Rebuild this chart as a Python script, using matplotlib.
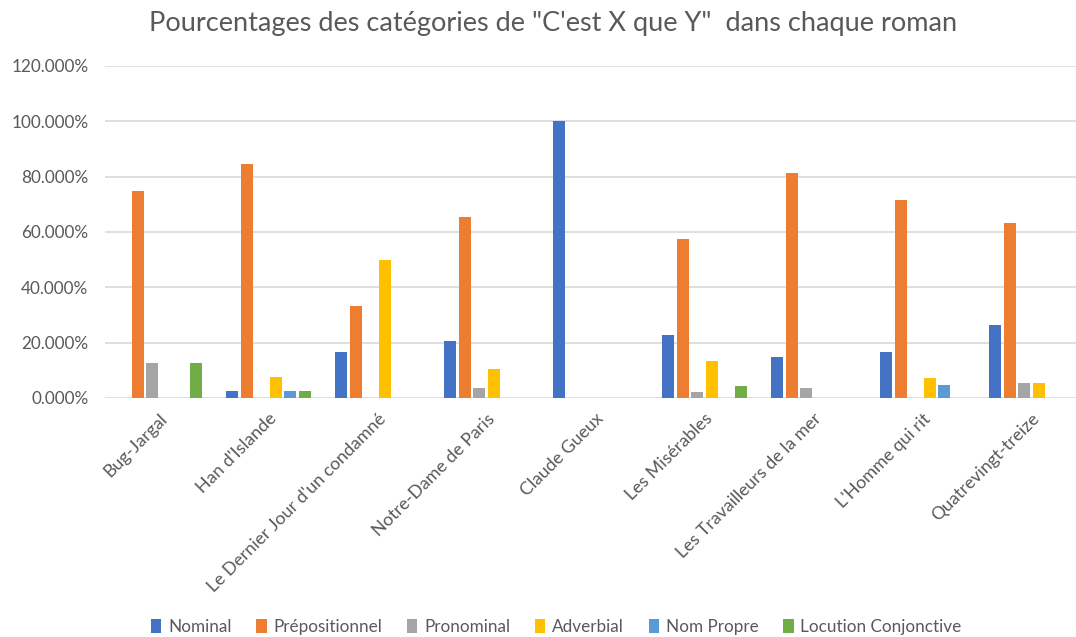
import matplotlib
matplotlib.use('Agg')
import matplotlib.pyplot as plt
from matplotlib.patches import Patch
from matplotlib.ticker import FuncFormatter
import numpy as np

romans = ['Bug-Jargal', "Han d'Islande", "Le Dernier Jour d'un condamné",
          'Notre-Dame de Paris', 'Claude Gueux', 'Les Misérables',
          'Les Travailleurs de la mer', "L'Homme qui rit", 'Quatrevingt-treize']

nominal = [0, 2.56, 16.67, 20.69, 100, 22.6, 14.81, 16.67, 26.32]
prepositionnel = [75, 84.62, 33.33, 65.52, 0, 57.5, 81.48, 71.43, 63.16]
pronominal = [12.5, 0, 0, 3.45, 0, 2.0, 3.70, 0, 5.26]
adverbial = [0, 7.69, 50, 10.34, 0, 13.5, 0, 7.14, 5.26]
nom_propre = [0, 2.56, 0, 0, 0, 0, 0, 4.76, 0]
locution = [12.5, 2.56, 0, 0, 0, 4.2, 0, 0, 0]

series = [('Nominal', nominal, '#4472C4'),
          ('Prépositionnel', prepositionnel, '#ED7D31'),
          ('Pronominal', pronominal, '#A5A5A5'),
          ('Adverbial', adverbial, '#FFC000'),
          ('Nom Propre', nom_propre, '#5B9BD5'),
          ('Locution Conjonctive', locution, '#70AD47')]

plt.rcParams['font.family'] = ['Lato', 'DejaVu Sans']
GREY = '#595959'

fig = plt.figure(figsize=(10.76, 6.37), dpi=100)
ax = fig.add_axes([105 / 1076, 1 - 398 / 637, 981 / 1076, 332 / 637])

x = np.arange(len(romans))
step = 0.133
for i, (name, vals, col) in enumerate(series):
  ax.bar(x + (i - 2.5) * step, vals, width=0.106, color=col,
         linewidth=0, zorder=3)

ax.set_xlim(-0.5, len(romans) - 0.5)
ax.set_ylim(0, 120)
ax.set_yticks(np.arange(0, 121, 20))
ax.yaxis.set_major_formatter(FuncFormatter(lambda v, p: '{:.3f}%'.format(v)))
ax.grid(axis='y', color='#D9D9D9', linewidth=1.2, zorder=0)
for s in ax.spines.values():
  s.set_visible(False)
ax.tick_params(axis='y', length=0, pad=12, labelsize=12.3, labelcolor=GREY)
ax.tick_params(axis='x', length=0, pad=9, labelsize=12.8, labelcolor=GREY)
ax.set_xticks(x)
ax.set_xticklabels(romans, rotation=45, ha='right', rotation_mode='anchor')

fig.text(553 / 1076, 1 - 23 / 637, 'Pourcentages des catégories de "C\'est X que Y"  dans chaque roman',
         ha='center', va='center', fontsize=19.5, color=GREY)

handles = [Patch(facecolor=c, label=n) for n, _, c in series]
fig.legend(handles=handles, loc='center', bbox_to_anchor=(0.517, 1 - 627 / 637),
           ncol=6, frameon=False, fontsize=12.3, handlelength=0.6, handleheight=0.9,
           handletextpad=0.4, columnspacing=1.45, labelcolor=GREY)

fig.savefig('out.png', dpi=100)
